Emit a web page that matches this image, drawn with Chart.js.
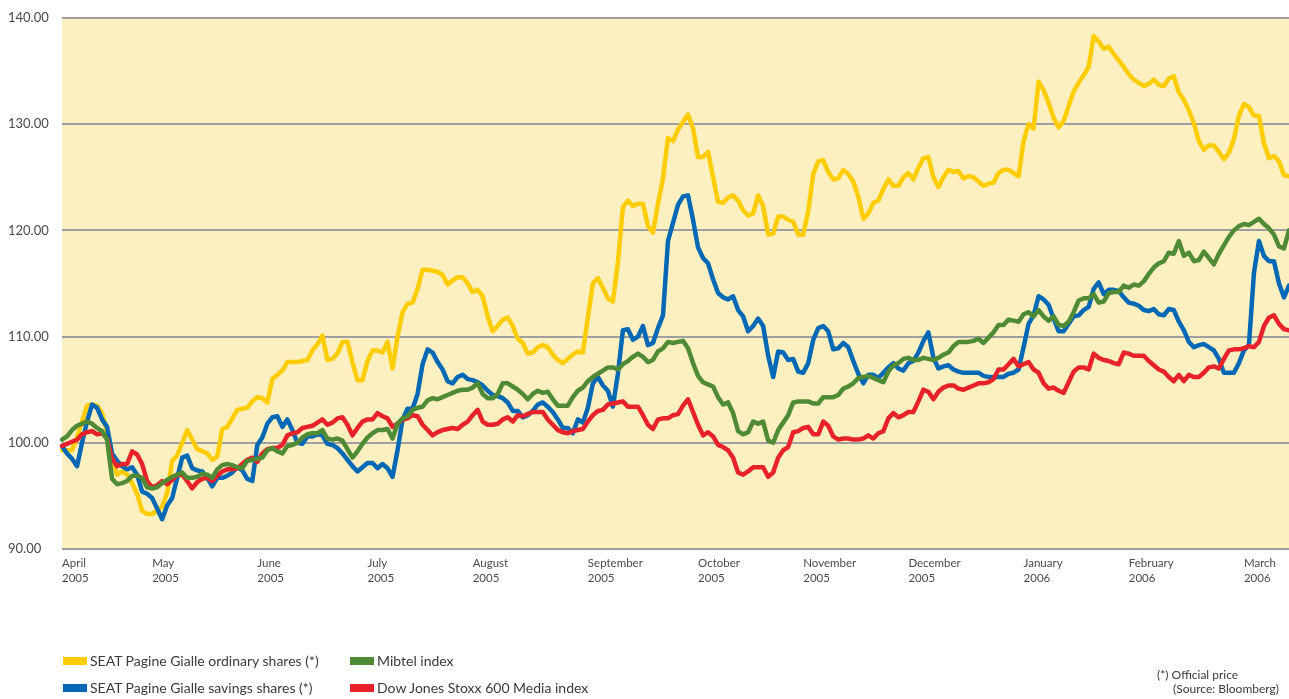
<!DOCTYPE html>
<html><head><meta charset="utf-8">
<script src="https://cdn.jsdelivr.net/npm/chart.js@4.4.1/dist/chart.umd.min.js"></script>
<style>
html,body{margin:0;padding:0;background:#fff;}
#wrap{position:relative;width:1289px;height:699px;font-family:Lato,"Open Sans",sans-serif;color:#3a3a3a;overflow:hidden;}
#c{position:absolute;left:0;top:0;}
.lg{position:absolute;font-size:14px;line-height:16px;white-space:nowrap;}
.sw{position:absolute;width:24px;height:8px;}
.fn{position:absolute;font-size:12px;line-height:14px;white-space:nowrap;color:#3a3a3a;}
</style></head><body>
<div id="wrap">
<canvas id="c" width="1289" height="699"></canvas>
<div id="legend"></div>
<div class="fn" style="left:1157px;top:668px">(*) Official price</div>
<div class="fn" style="left:1173px;top:682px">(Source: Bloomberg)</div>
</div>
<script>
// ---- Data (index = trading day, April 2005 - March 2006, base 100) ----
const monthLabels = [['April','2005'],['May','2005'],['June','2005'],['July','2005'],['August','2005'],['September','2005'],['October','2005'],['November','2005'],['December','2005'],['January','2006'],['February','2006'],['March','2006']];
const monthStartIdx = [0,18,39,61,82,105,127,148,169,192,213,236];
const yTicks = [90,100,110,120,130,140];

const seriesNames = ['SEAT Pagine Gialle ordinary shares (*)','SEAT Pagine Gialle savings shares (*)','Mibtel index','Dow Jones Stoxx 600 Media index'];

const ordinary = [
99.3,99.3,99.3,100.5,102,103.5,103.6,103.5,102.8,101,
98.7,97,97.3,97,96.2,95.2,93.6,93.3,93.3,93.6,
94,95.3,98.3,98.8,100,101.2,100.3,99.4,99.2,99,
98.4,98.7,101.3,101.5,102.3,103.1,103.2,103.3,103.9,104.3,
104.2,103.8,106,106.4,106.8,107.6,107.6,107.6,107.7,107.8,
108.7,109.3,110.1,107.8,107.9,108.4,109.5,109.5,107.6,105.9,
105.9,107.7,108.7,108.7,108.5,109.5,107,110,112.3,113.1,
113.2,114.5,116.3,116.3,116.2,116.1,115.8,114.9,115.3,115.6,
115.6,115,114.2,114.4,113.8,111.9,110.5,111,111.6,111.8,
111,109.8,109.4,108.4,108.5,109,109.2,109,108.3,107.8,
107.5,107.9,108.3,108.6,108.5,111.8,115,115.5,114.6,113.6,
113.3,117,122.2,122.8,122.3,122.5,122.5,120.4,119.8,122.5,
124.9,128.7,128.4,129.5,130.2,130.9,129.6,126.9,126.9,127.4,
125,122.7,122.6,123.1,123.3,122.8,121.9,121.4,121.6,123.3,
122.3,119.6,119.7,121.3,121.3,121,120.8,119.6,119.6,121.8,
125.3,126.5,126.6,125.5,124.8,124.9,125.7,125.3,124.6,123.2,
121.1,121.6,122.6,122.8,123.9,124.8,124.2,124.2,125,125.4,
124.8,125.9,126.8,126.9,125,124.1,125,125.7,125.5,125.6,
124.9,125.1,125,124.6,124.2,124.4,124.5,125.4,125.7,125.7,
125.4,125.1,128.4,130,129.6,134,133.2,132,130.6,129.7,
130.3,131.7,133.1,133.9,134.6,135.4,138.3,137.8,137.1,137.3,
136.6,136,135.4,134.7,134.2,133.9,133.6,133.8,134.2,133.7,
133.6,134.3,134.5,133,132.3,131.3,130.1,128.4,127.6,128,
128,127.4,126.7,127.3,128.6,130.8,131.9,131.6,130.8,130.8,
128.2,126.8,127,126.5,125.2,125.1];

const savings = [
99.7,99,98.5,97.8,100,102,103.6,103.3,102.2,101.5,
99,98.3,97.8,97.5,97.7,97,95.4,95.2,94.8,93.8,
92.8,94.1,94.8,96.7,98.6,98.8,97.6,97.4,97.3,96.7,
95.9,96.7,96.7,96.9,97.2,97.7,97.4,96.6,96.4,99.8,
100.5,101.8,102.4,102.5,101.5,102.2,101.2,100,99.9,100.6,
100.6,100.8,100.7,99.9,99.8,99.5,99,98.4,97.8,97.3,
97.7,98.1,98.1,97.6,98,97.6,96.8,99.3,102.2,103.2,
103.2,104.6,107.4,108.8,108.5,107.6,106.9,105.8,105.6,106.2,
106.4,106,105.9,105.7,105.4,104.9,104.5,104.4,104.2,103.8,
103,103,102.4,102.6,103,103.6,103.8,103.4,102.9,102.2,
101.4,101.4,100.9,102.2,101.9,103.3,105.6,106.2,105.4,104.9,
103.4,106.5,110.6,110.7,109.7,110,111,109.2,109.4,110.8,
112,119,120.7,122.4,123.2,123.3,121,118.4,117.4,116.9,
115.4,114.1,113.7,113.5,113.8,112.5,111.9,110.5,111,111.7,
111,108.2,106.2,108.6,108.5,107.8,107.9,106.7,106.6,107.5,
109.7,110.8,111,110.5,108.8,108.9,109.4,109,107.7,106.5,
105.6,106.4,106.4,106.1,106.6,107.1,107.5,107,106.8,107.5,
107.7,108.5,109.6,110.4,108,107,107.2,107.3,106.9,106.7,
106.6,106.6,106.6,106.6,106.3,106.2,106.2,106.2,106.2,106.5,
106.6,106.9,109,111.2,112,113.8,113.5,113,111.7,110.5,
110.5,111.2,111.9,112,112.5,112.8,114.5,115.1,114,114.4,
114.4,114.3,113.7,113.2,113.1,112.9,112.5,112.4,112.6,112.1,
112,112.6,112.5,111.4,110.6,109.5,109,109.2,109.3,109,
108.7,107.9,106.6,106.6,106.6,107.5,108.7,109.2,116,119,
117.6,117.1,117.1,115,113.7,114.8];

const mibtel = [
100.3,100.6,101.2,101.6,101.8,102,101.8,101.4,101.1,100.3,
96.6,96.1,96.2,96.4,96.9,96.9,96.7,95.8,95.7,95.8,
96.2,96.5,96.8,97,97.2,96.7,96.7,96.8,97.1,97,
96.7,97.5,97.9,98,97.9,97.7,97.6,98.3,98.4,98.5,
98.6,99.3,99.5,99.2,99,99.7,99.8,100,100.5,100.8,
100.9,100.9,101.2,100.4,100.3,100.4,100.2,99.4,98.6,99.2,
99.9,100.5,100.9,101.2,101.2,101.3,100.4,101.8,102.3,102.5,
103.1,103.3,103.4,104,104.2,104.1,104.3,104.5,104.7,104.9,
105,105,105.2,105.6,104.6,104.2,104.2,104.6,105.6,105.6,
105.3,105,104.6,104.1,104.6,104.9,104.7,104.8,104.1,103.5,
103.5,103.5,104.3,104.9,105.2,105.8,106.2,106.5,106.8,107.1,
107.1,106.9,107.4,107.7,108.1,108.4,108.1,107.6,107.8,108.6,
108.9,109.5,109.4,109.5,109.6,108.9,107.5,106.3,105.7,105.5,
105.3,104.3,103.6,103.8,102.8,101.1,100.8,101,102,101.8,
102,100.2,100,101.2,101.9,102.6,103.8,103.9,103.9,103.9,
103.7,103.7,104.3,104.3,104.3,104.5,105.1,105.3,105.6,106.1,
106.2,106.3,106.1,105.9,105.7,106.7,107.3,107.5,107.9,108,
107.8,107.8,108,107.9,107.8,108,108.3,108.5,109.1,109.5,
109.5,109.5,109.6,109.8,109.4,109.9,110.4,111.1,111.1,111.6,
111.5,111.4,112.1,112.3,111.9,112.5,111.9,111.5,111.9,111.1,
111,111.4,112.3,113.4,113.6,113.6,114,113.2,113.3,114.1,
114.2,114.2,114.8,114.6,114.9,114.8,115.2,115.9,116.5,116.9,
117.1,117.9,117.8,119,117.6,117.9,117.1,117.2,118,117.4,
116.8,117.8,118.6,119.4,120,120.4,120.6,120.5,120.8,121.1,
120.6,120.2,119.6,118.5,118.3,120];

const djStoxx = [
99.7,99.9,100.1,100.3,100.8,101,101.1,100.8,100.9,100.4,
98.5,97.8,98,98,99.2,98.9,98,96.4,95.8,96,
96.4,96.1,96.5,97,97,96.4,95.7,96.3,96.6,96.7,
96.4,96.9,97.3,97.5,97.5,97.6,98,98.4,98.6,98.2,
99,99.4,99.5,99.5,99.8,100.7,100.9,101,101.4,101.5,
101.6,101.9,102.2,101.7,101.9,102.3,102.4,101.7,100.7,101.4,
102,102.2,102.2,102.8,102.5,102.3,101.5,101.8,102.2,102.3,
102.6,102.5,101.7,101.2,100.7,101,101.2,101.3,101.4,101.3,
101.7,102,102.6,103.1,102,101.7,101.7,101.8,102.2,102.4,
102,102.6,102.5,102.7,102.9,102.9,102.9,102.2,101.7,101.2,
101,100.9,101.1,101.2,101.3,102,102.6,103,103.1,103.6,
103.7,103.8,103.9,103.4,103.4,103.4,102.6,101.7,101.3,102.2,
102.3,102.3,102.6,102.7,103.5,104.1,102.9,101.7,100.7,101,
100.6,99.8,99.6,99.3,98.6,97.2,97,97.3,97.7,97.7,
97.7,96.8,97.2,98.6,99.3,99.6,101,101.1,101.4,101.5,
100.8,100.8,102,101.6,100.6,100.3,100.4,100.4,100.3,100.3,
100.4,100.7,100.4,100.9,101.1,102.3,102.8,102.4,102.6,102.9,
102.9,103.9,105,104.8,104.1,104.8,105.2,105.4,105.4,105.1,
105,105.2,105.4,105.6,105.6,105.7,106,106.9,106.9,107.4,
107.9,107.2,107.4,107.6,106.9,106.6,105.6,105.1,105.2,104.9,
104.7,105.7,106.7,107.1,107.1,106.9,108.4,108,107.8,107.7,
107.5,107.4,108.5,108.4,108.2,108.2,108.2,107.7,107.3,106.9,
106.7,106.2,105.8,106.4,105.8,106.4,106.2,106.2,106.6,107.1,
107.2,107,107.9,108.7,108.8,108.8,108.9,109.1,109,109.5,
111,111.8,112,111.2,110.7,110.6];

const colors = ['#FFCC00','#0068B4','#4F8A34','#E8222B'];

// ---- build category labels (trading days, month names at month starts) ----
const labels = ordinary.map(() => '');
monthStartIdx.forEach((idx, k) => { labels[idx] = monthLabels[k]; });

// ---- legend (HTML text) ----
const legendPos = [[63,653],[63,680],[350,653],[350,680]];
const legend = document.getElementById('legend');
seriesNames.forEach((name, k) => {
  const [lx, ly] = legendPos[k];
  const sw = document.createElement('div');
  sw.className = 'sw'; sw.style.left = lx + 'px'; sw.style.top = (ly + 4) + 'px'; sw.style.background = colors[k];
  const tx = document.createElement('div');
  tx.className = 'lg'; tx.style.left = (lx + 27) + 'px'; tx.style.top = ly + 'px'; tx.textContent = name;
  legend.appendChild(sw); legend.appendChild(tx);
});

const bgPlugin = {
  id: 'plotBg',
  beforeDraw(chart) {
    const { ctx, chartArea: a } = chart;
    ctx.save();
    ctx.fillStyle = '#FDF0C0';
    ctx.fillRect(a.left, a.top, a.right - a.left, a.bottom - a.top);
    ctx.restore();
  }
};

const mk = (data, k, order) => ({
  label: seriesNames[k], data, borderColor: colors[k], backgroundColor: colors[k],
  borderWidth: 4.5, pointRadius: 0, tension: 0, fill: false,
  borderJoinStyle: 'round', borderCapStyle: 'round', order
});

new Chart(document.getElementById('c'), {
  type: 'line',
  data: {
    labels,
    datasets: [ mk(mibtel, 2, 1), mk(djStoxx, 3, 2), mk(savings, 1, 3), mk(ordinary, 0, 4) ]
  },
  options: {
    responsive: false, animation: false, devicePixelRatio: 1, events: [],
    layout: { padding: { left: 8, right: 0, top: 18, bottom: 0 } },
    plugins: { legend: { display: false }, tooltip: { enabled: false } },
    scales: {
      x: {
        type: 'category', offset: false,
        grid: { display: false, drawTicks: false },
        border: { display: false },
        ticks: { autoSkip: false, maxRotation: 0, minRotation: 0, align: 'start', padding: 7,
                 color: '#4a4a4a', font: { family: 'Lato', size: 11.5, lineHeight: 1.3 } },
        afterFit(s) { s.height = 150; s.paddingLeft = 0; s.paddingRight = 0; }
      },
      y: {
        min: 90, max: 140,
        afterBuildTicks(s) { s.ticks = yTicks.map(v => ({ value: v })); },
        grid: { color: '#9f9f9f', lineWidth: 2, drawTicks: false },
        border: { display: false },
        ticks: { crossAlign: 'far', padding: 0, color: '#4a4a4a',
                 font: { family: 'Lato', size: 13 },
                 callback: v => Number(v).toFixed(2) },
        afterFit(s) { s.width = 54; s.paddingTop = 0; s.paddingBottom = 0; }
      }
    }
  },
  plugins: [bgPlugin]
});
</script>
</body></html>
